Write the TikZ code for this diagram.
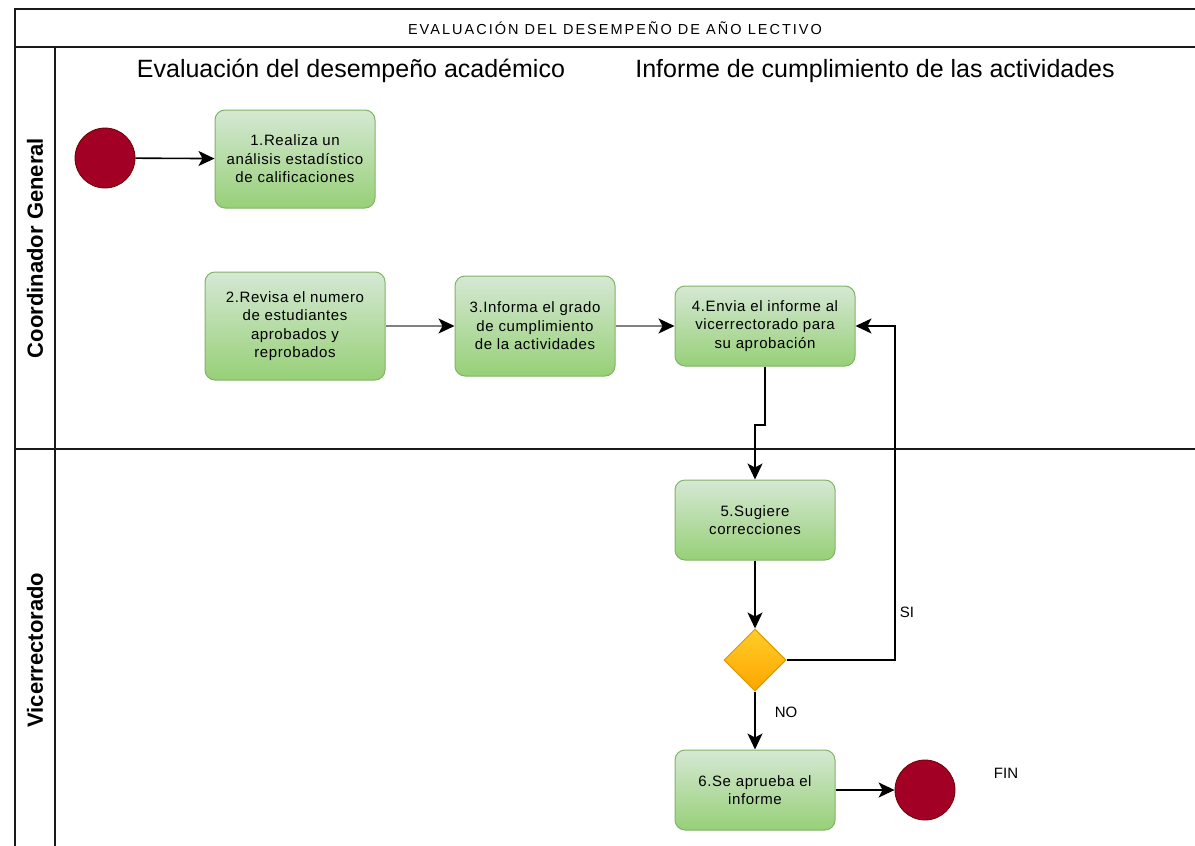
\documentclass[tikz,border=0pt]{standalone}
\usepackage{fontspec}
\setmainfont{Liberation Sans}
\newfontfamily\titlefont[LetterSpace=14]{Liberation Sans}
\newfontfamily\boxfont[LetterSpace=4]{Liberation Sans}
\usetikzlibrary{arrows.meta,shapes.geometric,calc}
\definecolor{actFill}{HTML}{D5E8D4}
\definecolor{actShade}{HTML}{97D077}
\definecolor{actLine}{HTML}{82B366}
\definecolor{decFill}{HTML}{FFCD28}
\definecolor{decShade}{HTML}{FFA500}
\definecolor{decLine}{HTML}{D79B00}
\definecolor{evtFill}{HTML}{A20025}
\definecolor{evtLine}{HTML}{6F0000}
\definecolor{poolInk}{HTML}{1A1A1A}
\definecolor{flowGrey}{HTML}{808080}

\tikzset{
  actbox/.style={draw=actLine, line width=1pt, rounded corners=10pt,
    top color=actFill, bottom color=actShade, align=center, inner sep=0pt,
    font=\boxfont\fontsize{15}{18.5}\selectfont},
  decbox/.style={diamond, draw=decLine, line width=1pt, top color=decFill,
    bottom color=decShade, minimum width=62pt, minimum height=62pt, inner sep=0pt},
  evtnode/.style={circle, draw=evtLine, line width=0.8pt, fill=evtFill,
    minimum size=60pt, inner sep=0pt},
  flow/.style={draw=black, line width=1.6pt,
    -{Stealth[length=16pt, width=15pt, inset=4pt, color=black]}},
  greyflow/.style={flow, draw=flowGrey},
  lbl/.style={font=\fontsize{15}{18}\selectfont, inner sep=0pt},
}

\begin{document}
\begin{tikzpicture}[x=1pt, y=-1pt, line cap=butt]

\useasboundingbox (0,0) rectangle (1195,846);

% dimensions
\def\poolL{15}    % pool left edge
\def\laneR{55}    % right edge of lane header column
\def\poolT{9}     % pool top
\def\titleB{47}   % bottom of title band
\def\laneY{449}   % lane divider
\def\maxX{1195}
\def\maxY{846}

% --- pool and lanes ---
\draw[poolInk, line width=1.6pt]
  (\maxX,\poolT) -- (\poolL,\poolT) -- (\poolL,\maxY);
\draw[poolInk, line width=1.2pt] (\poolL,\titleB) -- (\maxX,\titleB);
\draw[poolInk, line width=1.2pt] (\laneR,\titleB) -- (\laneR,\maxY);
\draw[poolInk, line width=1.2pt] (\poolL,\laneY) -- (\maxX,\laneY);

\node[font=\titlefont\fontsize{14.5}{16}\selectfont] (title) at (615,28)
  {EVALUACIÓN DEL DESEMPEÑO DE AÑO LECTIVO};
\node[rotate=90, font=\bfseries\fontsize{22}{26}\selectfont] (laneCG)
  at (35,248) {Coordinador General};
\node[rotate=90, font=\bfseries\fontsize{22}{26}\selectfont] (laneVR)
  at (35,650) {Vicerrectorado};

\node[font=\fontsize{25}{28}\selectfont] (colEval) at (351,71)
  {Evaluación del desempeño académico};
\node[font=\fontsize{25}{28}\selectfont] (colInf) at (875,71)
  {Informe de cumplimiento de las actividades};

% --- activities ---
\node[evtnode] (start) at (105,158) {};
\node[actbox, minimum width=160pt, minimum height=98pt] (act1) at (295,159)
  {1.Realiza un\\análisis estadístico\\de calificaciones};
\node[actbox, minimum width=180pt, minimum height=108pt] (act2) at (295,326)
  {2.Revisa el numero\\de estudiantes\\aprobados y\\reprobados};
\node[actbox, minimum width=160pt, minimum height=100pt] (act3) at (535,326)
  {3.Informa el grado\\de cumplimiento\\de la actividades};
\node[actbox, minimum width=180pt, minimum height=80pt] (act4) at (765,326)
  {4.Envia el informe al\\vicerrectorado para\\su aprobación};
\node[actbox, minimum width=160pt, minimum height=80pt] (act5) at (755,520)
  {5.Sugiere\\correcciones};
\node[decbox] (dec) at (755,660) {};
\node[actbox, minimum width=160pt, minimum height=80pt] (act6) at (755,790)
  {6.Se aprueba el\\informe};
\node[evtnode] (finish) at (925,790) {};

\node[lbl] (lblSI) at (907,612) {SI};
\node[lbl] (lblNO) at (786,712) {NO};
\node[lbl] (lblFIN) at (1006,773) {FIN};

% --- connectors ---
\coordinate (jog) at (765,425);
\coordinate (siturn) at (895,660);

\draw[flow] (start) -- (act1);
\draw[greyflow] (act2) -- (act3);
\draw[greyflow] (act3) -- (act4);
\draw[flow] (act4.south) -- (jog) -| (act5.north);
\draw[flow] (act5) -- (dec);
\draw[flow] (dec.east) -- (siturn) |- (act4.east);
\draw[flow] (dec) -- (act6);
\draw[flow] (act6) -- (finish);

\end{tikzpicture}
\end{document}
